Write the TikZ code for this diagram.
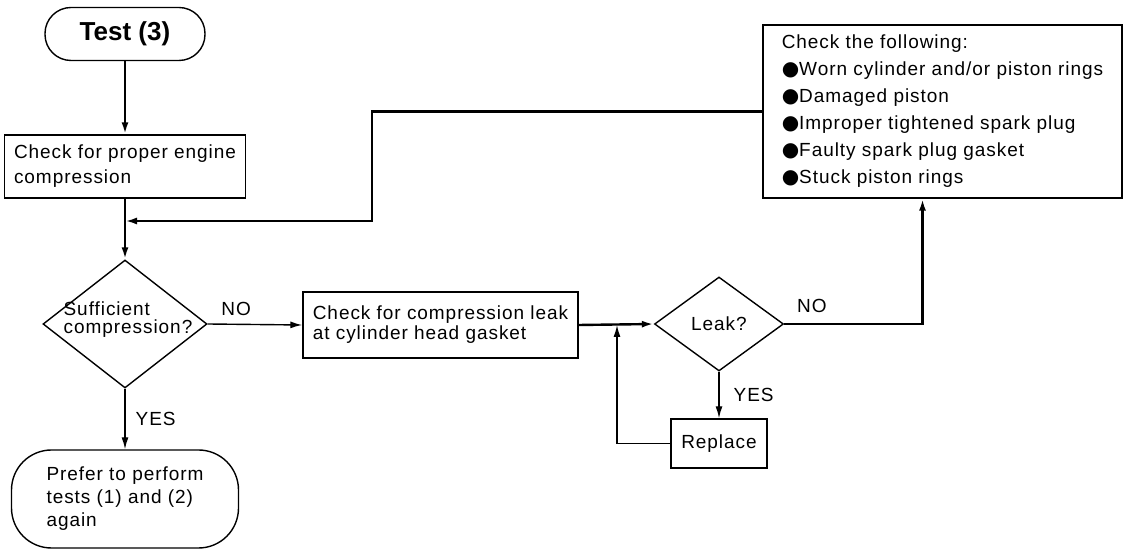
\documentclass[tikz,border=0pt]{standalone}
\usepackage{fontspec}
\setmainfont{Liberation Sans}[LetterSpace=5.0]
\newfontfamily\headfont{Liberation Sans}
\newfontfamily\dotfont{DejaVu Sans}
\usetikzlibrary{positioning, arrows.meta, calc, shapes.geometric}

\newcommand{\bulletdot}{{\dotfont\fontsize{10}{10}\selectfont ●}}

\begin{document}
\begin{tikzpicture}[x=0.5pt, y=-0.5pt, font=\fontsize{9.5}{12.5}\selectfont,
    box/.style={draw, line width=0.7pt, inner sep=0pt},
    term/.style={draw, line width=0.7pt, inner sep=0pt, rounded corners=#1},
    diam/.style={draw, diamond, line width=0.7pt, inner sep=0pt},
    thk/.style={line width=1.2pt},
    thn/.style={line width=0.7pt},
    arr/.style={-{Latex[length=6pt,width=3.5pt]}},
    lbl/.style={inner sep=0pt}]
  \def\fs#1{\fontsize{9.5}{#1}\selectfont}
  \useasboundingbox (0,0) rectangle (1124,549);

  % left column
  \node[term=13pt, minimum width=80pt, minimum height=26.5pt,
        font=\headfont\bfseries\fontsize{13}{15}\selectfont] (test) at (125,34) {Test (3)};
  \node[box, minimum width=120.5pt, minimum height=31.5pt, align=left, font=\fs{12.5}]
        (engine) at (125,166.5) {Check for proper engine\\compression};
  \node[diam, minimum width=82pt, minimum height=64pt,
        label={[align=left, xshift=1.5pt, yshift=2pt, font=\fs{9}]center:Sufficient\\compression?}]
        (suff) at (125,324) {};
  \node[term=20pt, minimum width=113.5pt, minimum height=49pt, align=left, font=\fs{11.5}]
        (retest) at (125,499) {Prefer to perform\\tests (1) and (2)\\again};

  % middle and right
  \node[box, minimum width=137.5pt, minimum height=33pt, align=left, font=\fs{10}]
        (leakchk) at (440.5,325) {Check for compression leak\\at cylinder head gasket};
  \node[diam, minimum width=64.5pt, minimum height=47pt, label={center:Leak?}]
        (leak) at (719,324) {};
  \node[box, minimum width=48pt, minimum height=24.5pt] (replace) at (719,443.5) {Replace};
  \node[box, minimum width=179.5pt, minimum height=86.5pt, align=left, font=\fs{13.5}]
        (causes) at (942.5,111.5) {Check the following:\\
        \bulletdot Worn cylinder and/or piston rings\\
        \bulletdot Damaged piston\\
        \bulletdot Improper tightened spark plug\\
        \bulletdot Faulty spark plug gasket\\
        \bulletdot Stuck piston rings};

  \coordinate (mg) at (125,221);
  \coordinate (jn) at (617,325);

  % connectors
  \draw[thk, arr] (test) -- (engine);
  \draw[thk, arr] (engine) -- (suff);
  \draw[thk, arr] (causes.west) -| (372,221) -- (mg);
  \draw[thn, arr] (suff.east) -- node[lbl, pos=0.3, above=4pt] {NO} (leakchk.west);
  \draw[thn, arr] (suff.south) -- node[lbl, right=5pt] {YES} (retest.north);
  \draw[thk, arr] (leakchk.east) -- (leak.west);
  \draw[thn, arr] (leak.south) -- node[lbl, right=7pt] {YES} (replace.north);
  \draw[thn, arr] (replace.west) -| (jn);
  \draw[thk, arr] (leak.east) -| node[lbl, pos=0.1, above=5pt] {NO} ([xshift=-10pt]causes.south);
\end{tikzpicture}
\end{document}
